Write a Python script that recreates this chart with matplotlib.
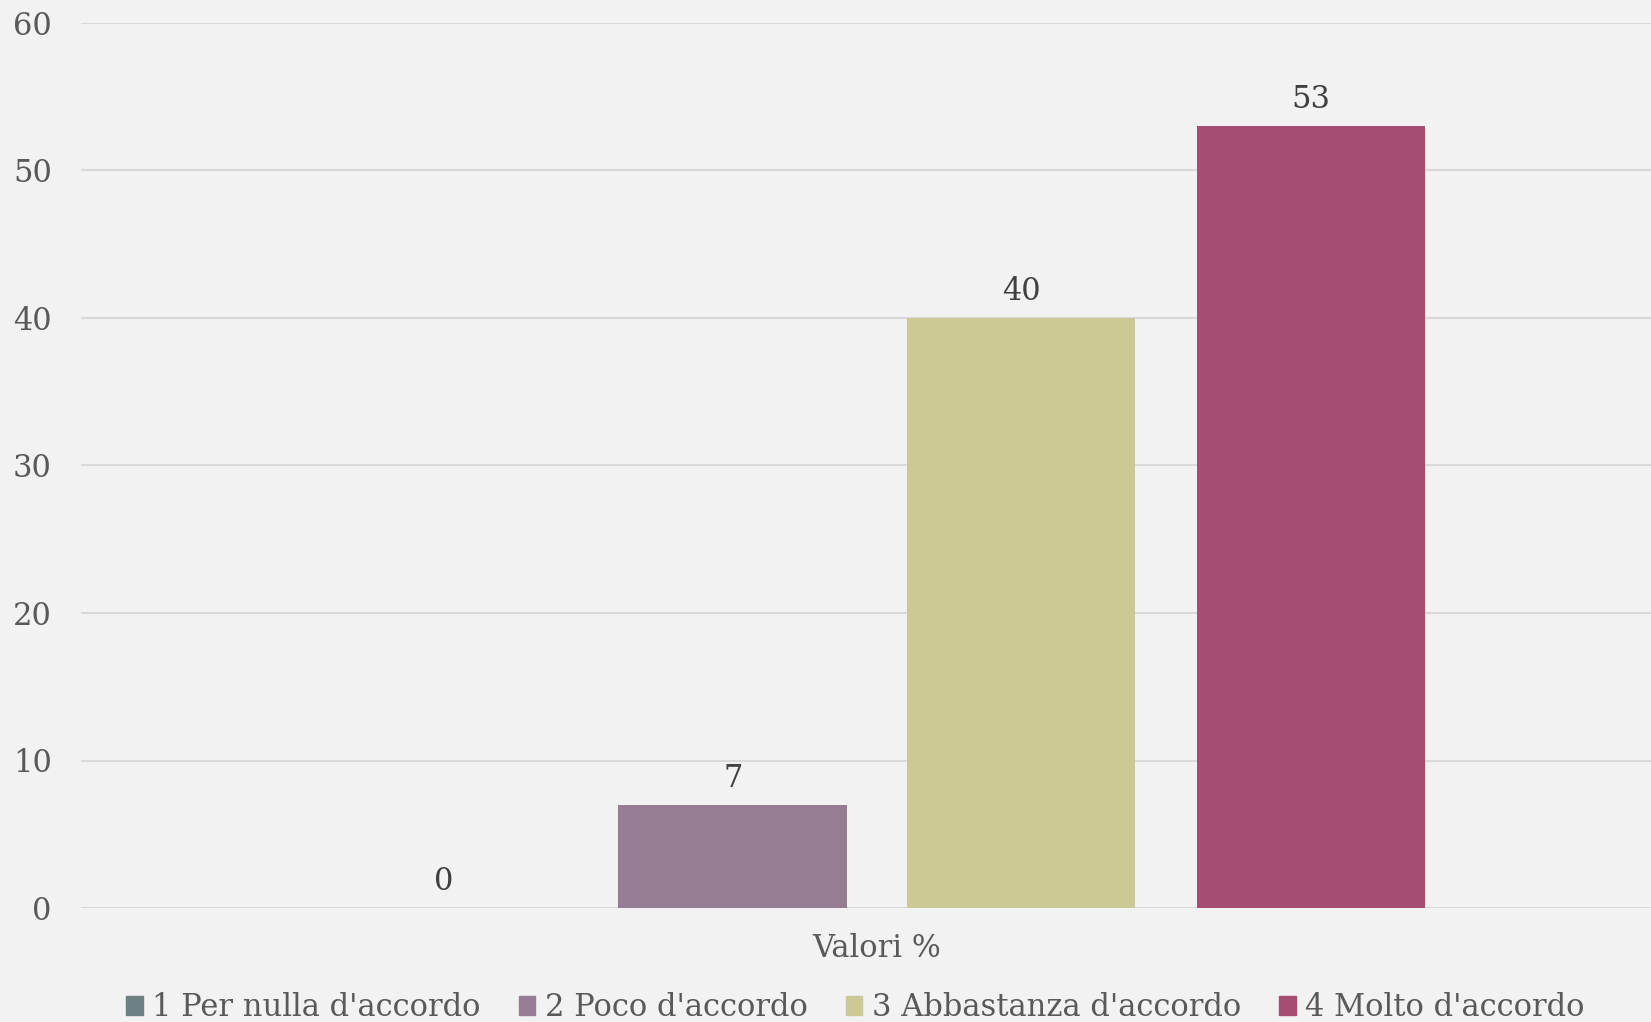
import matplotlib.pyplot as plt
from matplotlib.patches import Patch

categories = ["1 Per nulla d'accordo", "2 Poco d'accordo",
              "3 Abbastanza d'accordo", "4 Molto d'accordo"]
values = [0, 7, 40, 53]
colors = ["#6E8083", "#967D94", "#CCC994", "#A54D72"]
group_label = "Valori %"

offsets = [-0.2763, -0.0919, 0.0919, 0.2763]
width = 0.1455

plt.rcParams['font.family'] = ['DejaVu Serif']
bg = "#F2F2F2"

fig = plt.figure(figsize=(16.51, 10.22), dpi=100, facecolor=bg)
ax = fig.add_axes([81 / 1651, 1 - 908 / 1022, 1 - 81 / 1651, (908 - 23) / 1022])
ax.set_facecolor(bg)

for off, v, c in zip(offsets, values, colors):
    ax.bar(off, v, width=width, color=c, zorder=3)
    ax.text(off, v + 0.75, str(v), ha='center', va='bottom', fontsize=22, color="#404040")

ax.set_ylim(0, 60)
ax.set_xlim(-0.507, 0.493)
ax.set_yticks(range(0, 61, 10))
ax.yaxis.grid(True, color="#D9D9D9", linewidth=1.5, zorder=0)
ax.tick_params(axis='y', length=0, labelsize=22, labelcolor="#595959", pad=21)
ax.set_xticks([0.0])
ax.set_xticklabels([group_label])
ax.tick_params(axis='x', length=0, labelsize=22, labelcolor="#595959", pad=18)
for s in ax.spines.values():
    s.set_visible(False)

handles = [Patch(color=c, label=l) for c, l in zip(colors, categories)]
fig.legend(handles=handles, loc='lower center', bbox_to_anchor=(0.518, -0.028), ncol=4,
           frameon=False, fontsize=22, labelcolor="#595959", handlelength=0.55,
           handleheight=0.55, handletextpad=0.3, columnspacing=1.25)

fig.savefig("out.png", dpi=100, facecolor=bg)
